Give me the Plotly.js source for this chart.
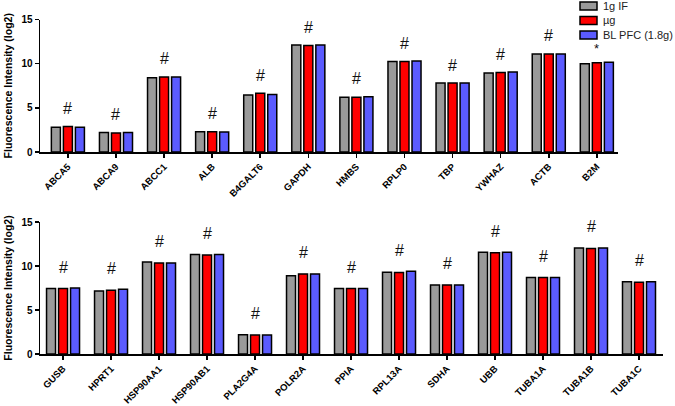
<!DOCTYPE html>
<html>
<head>
<meta charset="utf-8">
<script src="https://cdn.plot.ly/plotly-3.0.1.min.js"></script>
<style>html,body{margin:0;padding:0;background:#fff;}#chart{width:675px;height:406px;}</style>
</head>
<body>
<div id="chart"></div>
<script>
// ---- data ----
const seriesNames = ['1g IF', 'µg', 'BL PFC (1.8g)'];
const seriesColors = ['#9a9a9a', '#ff0000', '#5b5bff'];

const topGenes = ['ABCA5','ABCA9','ABCC1','ALB','B4GALT6','GAPDH','HMBS','RPLP0','TBP','YWHAZ','ACTB','B2M'];
const topIF    = [2.80, 2.20, 8.40, 2.30, 6.45, 12.10, 6.20, 10.25, 7.80, 8.95, 11.10, 10.00];
const topUG    = [2.90, 2.15, 8.50, 2.30, 6.65, 12.05, 6.20, 10.25, 7.80, 9.00, 11.10, 10.10];
const topBL    = [2.80, 2.20, 8.50, 2.25, 6.50, 12.10, 6.25, 10.30, 7.80, 9.05, 11.10, 10.15];
const topMarks = ['#','#','#','#','#','#','#','#','#','#','#','*'];

const botGenes = ['GUSB','HPRT1','HSP90AA1','HSP90AB1','PLA2G4A','POLR2A','PPIA','RPL13A','SDHA','UBB','TUBA1A','TUBA1B','TUBA1C'];
const botIF    = [7.45, 7.15, 10.45, 11.30, 2.20, 8.90, 7.45, 9.30, 7.85, 11.55, 8.70, 12.05, 8.20];
const botUG    = [7.45, 7.25, 10.35, 11.25, 2.15, 9.10, 7.45, 9.25, 7.85, 11.50, 8.70, 12.00, 8.15];
const botBL    = [7.50, 7.35, 10.35, 11.30, 2.15, 9.10, 7.45, 9.40, 7.85, 11.55, 8.70, 12.05, 8.20];
const botMarks = ['#','#','#','#','#','#','#','#','#','#','#','#','#'];

const yTicks = [0, 5, 10, 15];
const yTitle = 'Fluorescence Intensity (log2)';

// ---- build ----
const W = 675, H = 406;
const px = v => v / W;
const py = v => 1 - v / H;
const FONT = 'Liberation Sans, Arial, Helvetica, sans-serif';

const topSeries = [topIF, topUG, topBL];
const botSeries = [botIF, botUG, botBL];

const traces = [];
topSeries.forEach((vals, i) => {
  traces.push({type: 'bar', x: topGenes, y: vals, name: seriesNames[i], xaxis: 'x', yaxis: 'y',
    marker: {color: seriesColors[i], line: {color: '#000', width: 1.5}}, showlegend: false, hoverinfo: 'skip'});
});
botSeries.forEach((vals, i) => {
  traces.push({type: 'bar', x: botGenes, y: vals, name: seriesNames[i], xaxis: 'x2', yaxis: 'y2',
    marker: {color: seriesColors[i], line: {color: '#000', width: 1.5}}, showlegend: false, hoverinfo: 'skip'});
});

const annotations = [];
topGenes.forEach((g, k) => {
  const m = Math.max(topIF[k], topUG[k], topBL[k]);
  annotations.push({xref: 'x', yref: 'y', x: g, y: m, text: topMarks[k], showarrow: false,
    yanchor: 'middle', yshift: topMarks[k] === '*' ? 14 : 18, font: {family: FONT, size: topMarks[k] === '*' ? 13 : 16, color: '#111'}});
});
botGenes.forEach((g, k) => {
  const m = Math.max(botIF[k], botUG[k], botBL[k]);
  annotations.push({xref: 'x2', yref: 'y2', x: g, y: m, text: botMarks[k], showarrow: false,
    yanchor: 'middle', yshift: 21, font: {family: FONT, size: 16, color: '#111'}});
});

// custom legend
const shapes = [];
const legendRows = [6, 20.5, 35];
seriesNames.forEach((n, i) => {
  const c = legendRows[i];
  shapes.push({type: 'rect', xref: 'paper', yref: 'paper', x0: px(580), x1: px(597), y0: py(c + 4), y1: py(c - 4),
    fillcolor: seriesColors[i], line: {color: '#000', width: 1.5}});
  annotations.push({xref: 'paper', yref: 'paper', x: px(601), y: py(c), xanchor: 'left', yanchor: 'middle',
    text: n, showarrow: false, font: {family: FONT, size: 11, color: '#222'}});
});

const xCommon = {type: 'category', showline: true, linecolor: '#000', linewidth: 1.5, ticks: 'outside',
  ticklen: 4, tickwidth: 1.5, tickcolor: '#000', tickangle: -45, showgrid: false, zeroline: false,
  tickfont: {family: FONT, size: 9.5, weight: 'bold', color: '#000'}, automargin: false, fixedrange: true};
const yCommon = {range: [0, 15], tickvals: yTicks, showline: true, linecolor: '#000', linewidth: 1.5,
  ticks: 'outside', ticklen: 4, tickwidth: 1.5, tickcolor: '#000', showgrid: false, zeroline: false,
  tickfont: {family: FONT, size: 10, weight: 'bold', color: '#000'}, automargin: false, fixedrange: true,
  title: {text: yTitle, font: {family: FONT, size: 10.5, weight: 'bold', color: '#000'}, standoff: 6}};

const layout = {
  width: W, height: H,
  margin: {l: 0, r: 0, t: 0, b: 0},
  paper_bgcolor: '#fff', plot_bgcolor: '#fff',
  barmode: 'group', bargap: 0.25, bargroupgap: 0.25,
  showlegend: false,
  xaxis: Object.assign({}, xCommon, {domain: [px(40), px(618)], anchor: 'y', range: [-0.58, 11.44]}),
  yaxis: Object.assign({}, yCommon, {domain: [py(152), py(19.5)], anchor: 'x'}),
  xaxis2: Object.assign({}, xCommon, {domain: [px(40), px(663)], anchor: 'y2', range: [-0.48, 12.5]}),
  yaxis2: Object.assign({}, yCommon, {domain: [py(354), py(222)], anchor: 'x2'}),
  annotations: annotations,
  shapes: shapes
};

Plotly.newPlot('chart', traces, layout, {displayModeBar: false, staticPlot: true});
</script>
</body>
</html>
